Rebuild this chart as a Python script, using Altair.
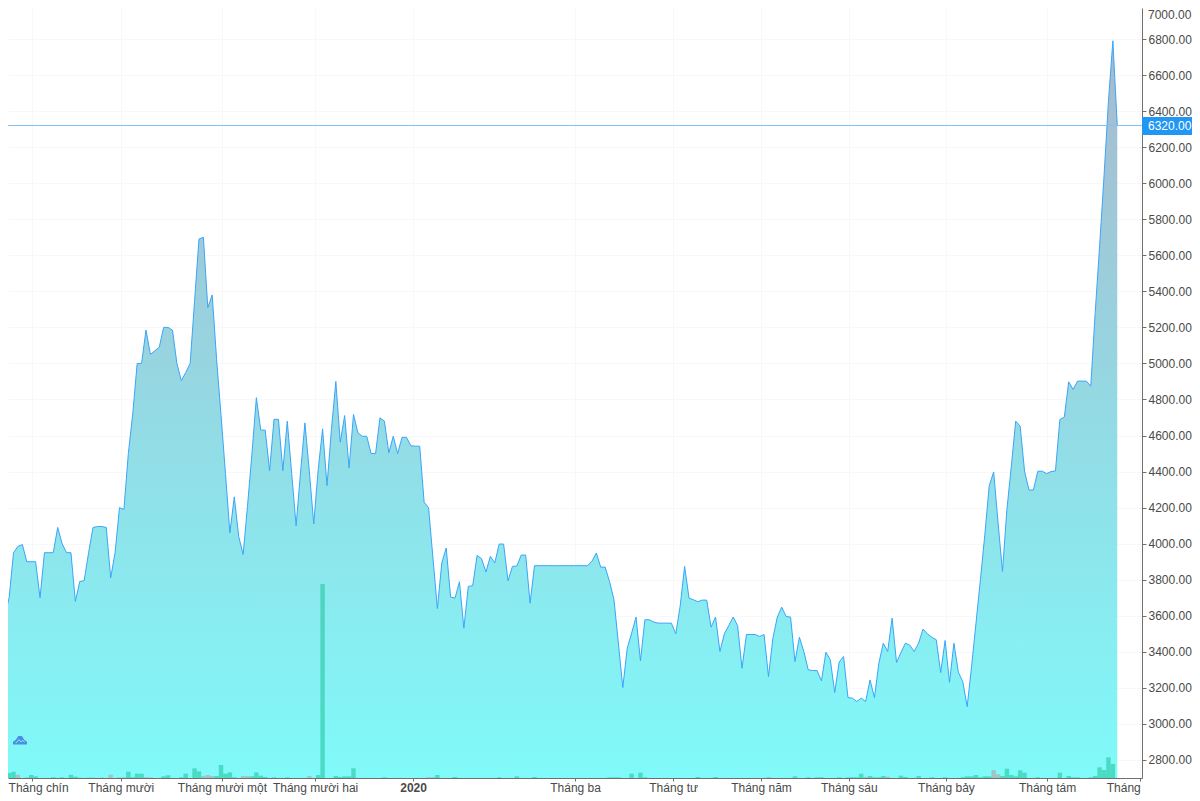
import altair as alt
import pandas as pd

prices = [
    3520,3600,3700,3950,3985,3995,3900,3900,3900,3700,
    3950,3950,3950,4090,4000,3950,3950,3680,3790,3795,
    3950,4090,4095,4095,4090,3810,3950,4200,4190,4500,
    4720,5000,5000,5185,5050,5070,5090,5200,5200,5185,
    5000,4905,4950,5000,5345,5690,5700,5310,5380,5020,
    4710,4390,4060,4260,4040,3940,4210,4500,4810,4630,
    4630,4405,4690,4690,4405,4680,4390,4100,4393,4670,
    4400,4110,4410,4637,4322,4633,4900,4563,4711,4420,
    4717,4615,4596,4596,4500,4500,4698,4680,4504,4596,
    4500,4590,4590,4543,4541,4541,4230,4200,3920,3640,
    3893,3976,3704,3698,3789,3531,3763,3767,3935,3917,
    3843,3930,3893,3998,3998,3794,3874,3876,3937,3937,
    3670,3878,3878,3878,3878,3878,3878,3878,3878,3878,
    3878,3878,3878,3878,3902,3948,3870,3870,3790,3689,
    3448,3202,3420,3504,3593,3350,3578,3578,3565,3559,
    3559,3559,3559,3500,3655,3874,3698,3689,3678,3687,
    3687,3537,3593,3402,3500,3546,3593,3546,3309,3496,
    3496,3496,3485,3496,3263,3476,3593,3648,3596,3593,
    3346,3481,3402,3300,3296,3296,3239,3398,3356,3174,
    3343,3374,3146,3143,3124,3143,3124,3244,3146,3337,
    3448,3402,3587,3341,3396,3448,3437,3402,3448,3526,
    3500,3481,3467,3285,3463,3231,3448,3287,3235,3096,
    3318,3559,3800,4050,4322,4398,4115,3846,4189,4430,
    4680,4652,4402,4298,4298,4402,4402,4389,4400,4404,
    4689,4702,4898,4856,4902,4902,4902,4874,5282,5653,
    6040,6455,6790,6320,
]

vol_green_idx = [2,3,7,8,12,14,16,17,20,21,23,29,30,31,32,37,38,41,42,44,45,49,50,51,52,53,57,58,59,60,62,65,72,73,76,77,78,79,80,87,
                 99,103,113,117,121,138,139,140,143,145,146,158,162,180,
                 183,185,186,190,192,193,194,195,197,198,199,200,204,205,208,211,214,218,219,220,221,222,223,224,227,228,229,230,231,232,235,240,242,243,244,247,248,249,250,251,252]
vol_green_val = [15,19,9,5,2,2,10,4,1,1,1,19,2,13,13,5,8,2,13,29,20,6,39,13,17,2,5,17,7,3,2,2,9,582,6,3,5,5,29,2,
                 9,3,2,5,3,2,2,2,13,16,2,3,3,5,
                 2,2,2,2,2,2,2,13,6,2,2,6,7,3,6,2,2,2,5,5,9,2,5,5,6,28,9,5,23,16,2,16,6,2,2,2,6,32,24,62,42]
vol_gray_idx = [4,6,18,25,27,28,33,34,46,47,48,55,56,70,97,98,174,196,201,225,226]
vol_gray_val = [10,2,1,10,2,2,2,2,6,9,6,6,6,6,2,2,3,3,4,24,11]

month_ticks = [7.2,27.3,50.2,71.3,93.5,130.2,152.4,172.3,192.2,214.2,237.1,258.2]
month_labels = ["Tháng chín","Tháng mười","Tháng mười một","Tháng mười hai","2020","Tháng ba",
                "Tháng tư","Tháng năm","Tháng sáu","Tháng bảy","Tháng tám","Tháng"]
price_ticks = [2800,3000,3200,3400,3600,3800,4000,4200,4400,4600,4800,5000,5200,5400,5600,5800,6000,6200,6400,6600,6800]
last_price = 6320
W, H = 1134, 770
RIGHT = 50
X_DOM = [1.744, 258.6]
Y_DOM = [2700, 6972]
TXT = "#4a4a4a"
AX = "#6f6f6f"
GRID = "#f8f8f8"
FONT = "Liberation Sans"

df = pd.DataFrame({"k": list(range(len(prices))), "price": prices, "floor": [Y_DOM[0]] * len(prices)})
vg = pd.DataFrame({"k": vol_green_idx, "vol": vol_green_val})
vy = pd.DataFrame({"k": vol_gray_idx, "vol": vol_gray_val})
for d in (vg, vy):
    d["a"] = d["k"] - 0.5
    d["b"] = d["k"] + 0.5

label_map = "{" + ",".join(f"'{v}':'{t}'" for v, t in zip(month_ticks, month_labels)) + "}"

x_axis = alt.Axis(
    values=month_ticks, labelExpr=label_map + "[datum.value]", title=None, grid=True, gridColor=GRID,
    domainColor=AX, tickColor=AX, tickSize=3, labelColor=TXT, labelFont=FONT, labelFontSize=12,
    labelPadding=1, labelOverlap=False, labelFlush=False,
    labelFontWeight=alt.expr("datum.value==93.5?'bold':'normal'"),
    labelAlign=alt.expr("datum.value==258.2?'right':'center'"),
    labelOffset=alt.expr("datum.value==7.2?6:0"),
)
y_axis = alt.Axis(
    values=price_ticks, orient="right", format=".2f", title=None, grid=True, gridColor=GRID,
    domainColor=AX, tickColor=AX, tickSize=4, labelColor=TXT, labelFont=FONT, labelFontSize=12,
    labelPadding=2, labelOverlap=False, labelFlush=False,
)
XS = alt.Scale(domain=X_DOM, nice=False, zero=False)
YS = alt.Scale(domain=Y_DOM, nice=False, zero=False)
X = alt.X("k:Q", scale=XS, axis=x_axis)
Y = alt.Y("price:Q", scale=YS, axis=y_axis)

area = alt.Chart(df).mark_area(
    clip=True,
    fill=alt.Gradient(gradient="linear", x1=0, x2=0, y1=0, y2=1,
                      stops=[alt.GradientStop(color="#a8b9cd", offset=0),
                             alt.GradientStop(color="#80fafa", offset=1)]),
).encode(x=X, y=Y, y2="floor:Q")
line = alt.Chart(df).mark_line(clip=True, color="#3aa5f8", strokeWidth=1).encode(
    x=X,
    y=alt.Y("price:Q", scale=YS, axis=None),
)

VOLY = alt.Y("vol:Q", scale=alt.Scale(domain=[0, H * 3], nice=False), axis=None)
def bars(d, color):
    return alt.Chart(d).mark_rect(clip=True, color=color, opacity=0.6).encode(
        x=alt.X("a:Q", scale=XS, axis=x_axis),
        x2="b:Q", y=VOLY, y2=alt.datum(0))
bar_g = bars(vg, "#26c6a0")
bar_y = bars(vy, "#b4a4a4")

rule_df = pd.DataFrame({"p": [last_price], "t": [f"{last_price:.2f}"]})
PY = alt.Y("p:Q", scale=YS, axis=None)
rule = alt.Chart(rule_df).mark_rule(color="#7cc4fa", strokeWidth=1).encode(y=PY)
badge = alt.Chart(rule_df).mark_rect(color="#2196f3", clip=False).encode(
    x=alt.value(W), x2=alt.value(W + RIGHT), y=alt.value(109), y2=alt.value(127))
badge_t = alt.Chart(rule_df).mark_text(align="left", baseline="middle", color="#ffffff", font=FONT, fontSize=12).encode(
    x=alt.value(W + 6), y=PY, text="t:N")
top_t = alt.Chart(pd.DataFrame({"t": ["7000.00"]})).mark_text(
    align="left", baseline="middle", color=TXT, font=FONT, fontSize=12).encode(
    x=alt.value(W + 6), y=alt.value(7), text="t:N")

logo_df = pd.DataFrame({"n": ["logo"]})
logo = alt.Chart(logo_df).mark_point(
    filled=True, opacity=1, color="#4a90e2", size=196,
    shape="M-1,0.64 L-1,0.24 L-0.6,-0.04 L-0.24,-0.56 L0.28,-0.56 L0.6,-0.04 L1,0.24 L1,0.64 Z",
).encode(x=alt.value(12), y=alt.value(732))
logo2 = alt.Chart(logo_df).mark_point(
    filled=False, opacity=1, color="#9fe8f5", size=196, strokeWidth=1,
    shape="M-0.6,0.44 L-0.16,-0.04 L0.16,0.28 L0.4,0.04 L0.64,0.32",
).encode(x=alt.value(12), y=alt.value(732))

chart = alt.layer(area, line, bar_g, bar_y, rule, badge, badge_t, top_t, logo, logo2).resolve_scale(
    y="independent"
).properties(
    width=W, height=H,
    autosize=alt.AutoSizeParams(type="none"),
    padding={"left": 0, "top": 0, "right": RIGHT, "bottom": 18},
).configure_view(stroke=None)

chart.save("out.html", embed_options={"renderer": "svg", "actions": False})
